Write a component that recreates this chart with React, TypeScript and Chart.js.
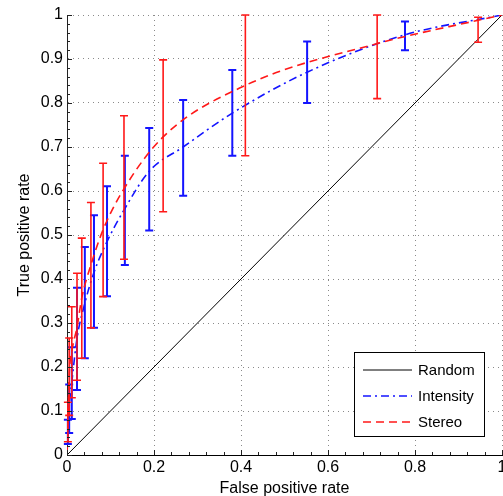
import React, { useEffect, useRef } from 'react';
import { Chart, registerables } from 'chart.js';

Chart.register(...registerables);

// ---- data ----
const randomX = [0, 1];
const randomY = [0, 1];

const intensityX = [0, 0.002, 0.005, 0.011, 0.023, 0.041, 0.062, 0.092, 0.133, 0.189, 0.267, 0.38, 0.552, 0.777, 1];
const intensityY = [0, 0.05, 0.11, 0.165, 0.265, 0.345, 0.415, 0.485, 0.56, 0.645, 0.7, 0.777, 0.87, 0.955, 1];
const intensityLo = [null, 0.025, 0.05, 0.082, 0.148, 0.22, 0.289, 0.361, 0.432, 0.51, 0.589, 0.68, 0.8, 0.92, null];
const intensityHi = [null, 0.08, 0.16, 0.245, 0.38, 0.473, 0.545, 0.611, 0.68, 0.743, 0.807, 0.875, 0.94, 0.985, null];

const stereoX = [0, 0.002, 0.005, 0.011, 0.023, 0.034, 0.055, 0.083, 0.131, 0.221, 0.41, 0.713, 0.945, 1];
const stereoY = [0, 0.07, 0.18, 0.235, 0.29, 0.357, 0.432, 0.512, 0.605, 0.723, 0.84, 0.935, 0.988, 1];
const stereoLo = [null, 0.03, 0.09, 0.13, 0.17, 0.22, 0.289, 0.36, 0.445, 0.553, 0.68, 0.81, 0.938, null];
const stereoHi = [null, 0.12, 0.266, 0.337, 0.413, 0.493, 0.574, 0.663, 0.771, 0.898, 1.0, 1.0, 0.995, null];

const xTickLabels = ['0', '0.2', '0.4', '0.6', '0.8', '1'];
const yTickLabels = ['0', '0.1', '0.2', '0.3', '0.4', '0.5', '0.6', '0.7', '0.8', '0.9', '1'];

const seriesNames = ['Random', 'Intensity', 'Stereo'];

const FONT = '"Liberation Sans", Arial, Helvetica, sans-serif';

const toPoints = (xs: number[], ys: number[]) => xs.map((x, i) => ({ x, y: ys[i] }));

const errorBarPlugin = {
  id: 'errorBars',
  afterDatasetDraw(chart: any, args: any) {
    const ds = chart.data.datasets[args.index];
    if (!ds.errLo) return;
    const xs = chart.scales.x;
    const ys = chart.scales.y;
    const ctx = chart.ctx;
    ctx.save();
    ctx.strokeStyle = ds.borderColor;
    ctx.lineWidth = ds.errWidth || 1.5;
    ctx.setLineDash([]);
    ds.data.forEach((p: any, i: number) => {
      const lo = ds.errLo[i];
      const hi = ds.errHi[i];
      if (lo == null || hi == null) return;
      const px = xs.getPixelForValue(p.x);
      const pl = ys.getPixelForValue(lo);
      const ph = ys.getPixelForValue(hi);
      ctx.beginPath();
      ctx.moveTo(px, pl);
      ctx.lineTo(px, ph);
      ctx.moveTo(px - 4, pl);
      ctx.lineTo(px + 4, pl);
      ctx.moveTo(px - 4, ph);
      ctx.lineTo(px + 4, ph);
      ctx.stroke();
    });
    ctx.restore();
  },
};

const tickPlugin = {
  id: 'inwardTicks',
  afterDatasetsDraw(chart: any) {
    const { ctx, chartArea } = chart;
    const xs = chart.scales.x;
    const ys = chart.scales.y;
    ctx.save();
    ctx.strokeStyle = '#222';
    ctx.lineWidth = 1;
    ctx.setLineDash([]);
    ctx.beginPath();
    for (let k = 0; k <= 25; k++) {
      const v = k * 0.04;
      const px = Math.round(xs.getPixelForValue(v)) + 0.5;
      const len = k % 5 === 0 ? 5 : 3;
      ctx.moveTo(px, chartArea.bottom);
      ctx.lineTo(px, chartArea.bottom - len);
    }
    for (let k = 0; k <= 50; k++) {
      const v = k * 0.02;
      const py = Math.round(ys.getPixelForValue(v)) + 0.5;
      const len = k % 5 === 0 ? 5 : 3;
      ctx.moveTo(chartArea.left, py);
      ctx.lineTo(chartArea.left + len, py);
    }
    ctx.stroke();
    ctx.restore();
  },
};

const legendPlugin = {
  id: 'boxLegend',
  afterDraw(chart: any) {
    const { ctx, chartArea } = chart;
    const w = 130;
    const h = 84;
    const right = chartArea.right - 18;
    const bottom = chartArea.bottom - 19;
    const left = right - w;
    const top = bottom - h;
    ctx.save();
    ctx.fillStyle = '#fff';
    ctx.fillRect(left, top, w, h);
    ctx.strokeStyle = '#000';
    ctx.lineWidth = 1;
    ctx.setLineDash([]);
    ctx.strokeRect(Math.round(left) + 0.5, Math.round(top) + 0.5, w, h);
    [0, 1, 2].forEach((di, row) => {
      const ds = chart.data.datasets[di];
      const cy = top + 18 + row * 26;
      ctx.beginPath();
      ctx.strokeStyle = ds.borderColor;
      ctx.lineWidth = ds.borderWidth;
      ctx.setLineDash(ds.borderDash || []);
      ctx.moveTo(left + 9, cy);
      ctx.lineTo(left + 58, cy);
      ctx.stroke();
      ctx.setLineDash([]);
      ctx.fillStyle = '#000';
      ctx.font = `15px ${FONT}`;
      ctx.textBaseline = 'middle';
      ctx.textAlign = 'left';
      ctx.fillText(seriesNames[di], left + 64, cy + 1);
    });
    ctx.restore();
  },
};

export default function App() {
  const ref = useRef<HTMLCanvasElement | null>(null);

  useEffect(() => {
    if (!ref.current) return;
    const chart = new Chart(ref.current, {
      type: 'line',
      data: {
        datasets: [
          {
            label: seriesNames[0],
            data: toPoints(randomX, randomY),
            borderColor: '#000000',
            borderWidth: 1,
            pointRadius: 0,
            tension: 0,
            order: 2,
          } as any,
          {
            label: seriesNames[1],
            data: toPoints(intensityX, intensityY),
            borderColor: 'rgb(20,20,255)',
            borderWidth: 1.6,
            borderDash: [8, 4, 2, 4],
            pointRadius: 0,
            cubicInterpolationMode: 'monotone',
            errLo: intensityLo,
            errHi: intensityHi,
            errWidth: 2,
            order: 1,
          } as any,
          {
            label: seriesNames[2],
            data: toPoints(stereoX, stereoY),
            borderColor: 'rgb(255,25,25)',
            borderWidth: 1.6,
            borderDash: [8, 5],
            pointRadius: 0,
            cubicInterpolationMode: 'monotone',
            errLo: stereoLo,
            errHi: stereoHi,
            errWidth: 1.6,
            order: 0,
          } as any,
        ],
      },
      options: {
        animation: false,
        responsive: false,
        layout: { padding: { top: 15, right: 8, left: 0, bottom: 0 } },
        plugins: {
          legend: { display: false },
          tooltip: { enabled: false },
        },
        scales: {
          x: {
            type: 'linear',
            min: 0,
            max: 1,
            afterFit: (s: any) => {
              s.height = 45;
            },
            ticks: {
              stepSize: 0.2,
              padding: 3,
              color: '#000',
              font: { family: FONT, size: 16 },
              callback: (_v: any, i: number) => xTickLabels[i],
              maxRotation: 0,
            },
            grid: {
              color: '#8a8a8a',
              lineWidth: 1,
              drawTicks: false,
            },
            border: { display: true, color: '#000', width: 1, dash: [1, 4] },
            title: {
              display: true,
              text: 'False positive rate',
              color: '#000',
              font: { family: FONT, size: 16 },
              padding: { top: 0, bottom: 2 },
            },
          },
          y: {
            type: 'linear',
            min: 0,
            max: 1,
            afterFit: (s: any) => {
              s.width = 67;
            },
            ticks: {
              stepSize: 0.1,
              padding: 4,
              color: '#000',
              font: { family: FONT, size: 16 },
              callback: (_v: any, i: number) => yTickLabels[i],
            },
            grid: {
              color: '#8a8a8a',
              lineWidth: 1,
              drawTicks: false,
            },
            border: { display: true, color: '#222', width: 1, dash: [1, 4] },
            title: {
              display: true,
              text: 'True positive rate',
              color: '#000',
              font: { family: FONT, size: 16 },
              padding: { top: 15, bottom: 0 },
            },
          },
        },
      } as any,
      plugins: [errorBarPlugin, tickPlugin, legendPlugin],
    });
    return () => chart.destroy();
  }, []);

  return (
    <canvas
      ref={ref}
      width={510}
      height={500}
      style={{ position: 'fixed', left: 0, top: 0, display: 'block', background: '#fff' }}
    />
  );
}
